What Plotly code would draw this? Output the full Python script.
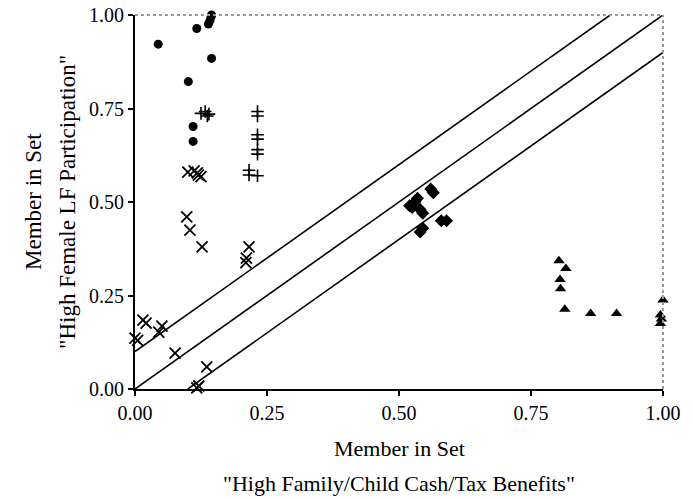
import plotly.graph_objects as go

# ---- data ----
circle_x = [0.044, 0.101, 0.117, 0.139, 0.142, 0.144, 0.145, 0.145, 0.110, 0.110]
circle_y = [0.922, 0.822, 0.964, 0.976, 0.985, 0.995, 1.000, 0.884, 0.702, 0.662]

plus_x = [0.125, 0.133, 0.140, 0.137, 0.232, 0.232, 0.232, 0.232, 0.232, 0.232, 0.216, 0.216, 0.232]
plus_y = [0.737, 0.742, 0.735, 0.730, 0.742, 0.730, 0.680, 0.668, 0.640, 0.628, 0.585, 0.572, 0.570]

cross_x = [0.100, 0.112, 0.118, 0.120, 0.125, 0.098, 0.104, 0.127, 0.216, 0.211, 0.210,
           0.000, 0.005, 0.015, 0.021, 0.051, 0.045, 0.076, 0.136, 0.117, 0.121]
cross_y = [0.580, 0.583, 0.578, 0.572, 0.568, 0.460, 0.425, 0.380, 0.380, 0.350, 0.338,
           0.136, 0.130, 0.184, 0.176, 0.168, 0.152, 0.096, 0.059, 0.003, 0.008]

diamond_x = [0.520, 0.525, 0.530, 0.535, 0.540, 0.545, 0.545, 0.540, 0.560, 0.565, 0.580, 0.590]
diamond_y = [0.490, 0.485, 0.500, 0.510, 0.480, 0.470, 0.430, 0.420, 0.535, 0.525, 0.450, 0.450]

tri_x = [0.803, 0.816, 0.805, 0.806, 0.814, 0.863, 0.912, 1.000, 0.995, 0.997, 0.995]
tri_y = [0.343, 0.322, 0.293, 0.268, 0.213, 0.202, 0.202, 0.238, 0.198, 0.187, 0.175]

# reference lines: y = x + 0.1, y = x, y = x - 0.1
upper_x = [0.0, 0.9]
upper_y = [0.1, 1.0]
mid_x = [0.0, 1.0]
mid_y = [0.0, 1.0]
lower_x = [0.1, 1.0]
lower_y = [0.0, 0.9]

tick_vals = [0.0, 0.25, 0.5, 0.75, 1.0]
tick_text = ["0.00", "0.25", "0.50", "0.75", "1.00"]

x_title = ["Member in Set", "\"High Family/Child Cash/Tax Benefits\""]
y_title = ["Member in Set", "\"High Female LF Participation\""]

FONT = "Liberation Serif, Times New Roman, serif"

fig = go.Figure()
for lx, ly in [(upper_x, upper_y), (mid_x, mid_y), (lower_x, lower_y)]:
    fig.add_trace(go.Scatter(x=lx, y=ly, mode="lines",
                             line=dict(color="black", width=1.6), hoverinfo="skip"))

fig.add_trace(go.Scatter(x=circle_x, y=circle_y, mode="markers", cliponaxis=False,
                         marker=dict(symbol="circle", size=9, color="black")))
fig.add_trace(go.Scatter(x=plus_x, y=plus_y, mode="markers", cliponaxis=False,
                         marker=dict(symbol="cross-thin-open", size=9, color="black",
                                     line=dict(color="black", width=1.6))))
fig.add_trace(go.Scatter(x=cross_x, y=cross_y, mode="markers", cliponaxis=False,
                         marker=dict(symbol="x-thin-open", size=11, color="black",
                                     line=dict(color="black", width=1.8))))
fig.add_trace(go.Scatter(x=diamond_x, y=diamond_y, mode="markers", cliponaxis=False,
                         marker=dict(symbol="diamond", size=10, color="black")))
fig.add_trace(go.Scatter(x=tri_x, y=tri_y, mode="markers", cliponaxis=False,
                         marker=dict(symbol="triangle-up", size=10, color="black")))

axis_common = dict(range=[0, 1], tickvals=tick_vals, ticktext=tick_text,
                   showgrid=False, zeroline=False, showline=True, automargin=False,
                   ticklabeloverflow="allow",
                   linecolor="black", linewidth=2, ticks="outside", ticklen=5,
                   tickwidth=1.5, tickcolor="black",
                   tickfont=dict(family=FONT, size=20, color="black"))

fig.update_layout(
    width=693, height=499,
    margin=dict(l=127, r=38, t=7, b=118),
    paper_bgcolor="white", plot_bgcolor="white",
    showlegend=False,
    xaxis=axis_common,
    yaxis=axis_common,
    shapes=[
        dict(type="line", xref="paper", yref="paper", x0=0, x1=1, y0=1, y1=1,
             line=dict(color="#999999", width=2, dash="dot")),
        dict(type="line", xref="paper", yref="paper", x0=1, x1=1, y0=0, y1=1,
             line=dict(color="#999999", width=2, dash="dot")),
    ],
    annotations=[
        dict(text=x_title[0], xref="paper", yref="paper", x=0.5, y=0,
             yshift=-59, showarrow=False, yanchor="middle",
             font=dict(family=FONT, size=22, color="black")),
        dict(text=x_title[1], xref="paper", yref="paper", x=0.5, y=0,
             yshift=-94, showarrow=False, yanchor="middle",
             font=dict(family=FONT, size=22, color="black")),
        dict(text=y_title[0], xref="paper", yref="paper", x=0, y=0.5,
             xshift=-102, showarrow=False, textangle=-90, xanchor="center",
             font=dict(family=FONT, size=23, color="black")),
        dict(text=y_title[1], xref="paper", yref="paper", x=0, y=0.5,
             xshift=-68, showarrow=False, textangle=-90, xanchor="center",
             font=dict(family=FONT, size=23, color="black")),
    ],
)

fig.write_html("out.html")
